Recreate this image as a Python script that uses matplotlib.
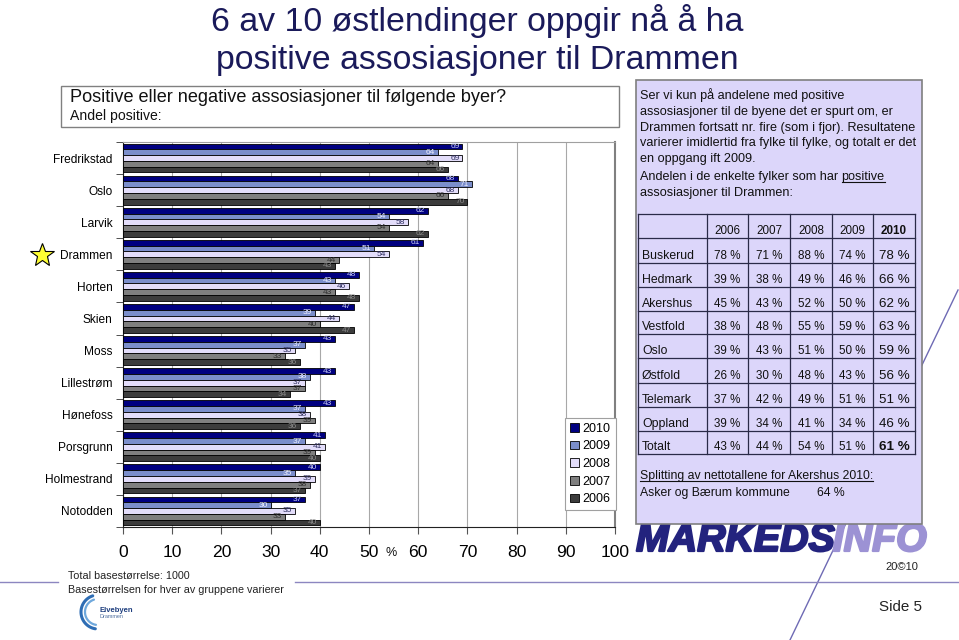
import numpy as np
import matplotlib
matplotlib.use('Agg')
import matplotlib.pyplot as plt
import matplotlib.patheffects as pe
from matplotlib import font_manager
from matplotlib.patches import Rectangle

# --- data -------------------------------------------------------------
cities = ['Fredrikstad', 'Oslo', 'Larvik', 'Drammen', 'Horten', 'Skien', 'Moss',
          'Lillestrøm', 'Hønefoss', 'Porsgrunn', 'Holmestrand', 'Notodden']
years = ['2010', '2009', '2008', '2007', '2006']
pos_2010 = [69, 68, 62, 61, 48, 47, 43, 43, 43, 41, 40, 37]
pos_2009 = [64, 71, 54, 51, 43, 39, 37, 38, 37, 37, 35, 30]
pos_2008 = [69, 68, 58, 54, 46, 44, 35, 37, 38, 41, 39, 35]
pos_2007 = [64, 66, 54, 44, 43, 40, 33, 37, 39, 39, 38, 33]
pos_2006 = [66, 70, 62, 43, 48, 47, 36, 34, 36, 40, 37, 40]
x_ticks = [0, 10, 20, 30, 40, 50, 60, 70, 80, 90, 100]

table_years = ['2006', '2007', '2008', '2009', '2010']
fylker = ['Buskerud', 'Hedmark', 'Akershus', 'Vestfold', 'Oslo', 'Østfold',
          'Telemark', 'Oppland', 'Totalt']
fylke_2006 = [78, 39, 45, 38, 39, 26, 37, 39, 43]
fylke_2007 = [71, 38, 43, 48, 43, 30, 42, 34, 44]
fylke_2008 = [88, 49, 52, 55, 51, 48, 49, 41, 54]
fylke_2009 = [74, 46, 50, 59, 50, 43, 51, 34, 51]
fylke_2010 = [78, 66, 62, 63, 59, 56, 51, 46, 61]
asker_baerum_2010 = 64

bar_colors = ['#000080', '#7B8ECB', '#E3DDFA', '#7F7F7F', '#3C3C3C']
label_colors = ['#C8CCF5', '#EEF0FF', '#303060', '#303030', '#8A8A8A']

names = {f.name for f in font_manager.fontManager.ttflist}
NARROW = 'Liberation Sans Narrow' if 'Liberation Sans Narrow' in names else 'Liberation Sans'
SQ = 1.0 if NARROW == 'Liberation Sans Narrow' else 0.84   # shrink if no narrow face
plt.rcParams['font.family'] = ['Liberation Sans', 'DejaVu Sans']

fig = plt.figure(figsize=(9.59, 6.40), dpi=100)
fig.patch.set_facecolor('white')

# background axes in pixel coordinates for all the slide decoration
bg = fig.add_axes([0, 0, 1, 1], zorder=0)
bg.set_xlim(0, 959)
bg.set_ylim(640, 0)
bg.axis('off')
renderer = fig.canvas.get_renderer()


def extent(t):
    bb = t.get_window_extent(renderer=renderer)
    inv = bg.transData.inverted()
    (x0, y0), (x1, y1) = inv.transform([(bb.x0, bb.y0), (bb.x1, bb.y1)])
    return x0, x1, y0, y1


# title
title_col = '#1a1a5a'
bg.text(477, 21, '6 av 10 østlendinger oppgir nå å ha', ha='center', va='center',
        fontsize=29 * SQ, family=NARROW, color=title_col)
bg.text(477, 60, 'positive assosiasjoner til Drammen', ha='center', va='center',
        fontsize=29 * SQ, family=NARROW, color=title_col)

# question box
bg.add_patch(Rectangle((61, 86), 558, 41, fc='white', ec='#808080', lw=1, zorder=2))
bg.text(70, 98, 'Positive eller negative assosiasjoner til følgende byer?', va='center',
        fontsize=15.5 * SQ, family=NARROW, color='#111111', zorder=3)
bg.text(70, 116, 'Andel positive:', va='center', fontsize=12 * SQ, family=NARROW,
        color='#111111', zorder=3)

# star in front of Drammen
bg.plot(42, 255, marker='*', markersize=18, mfc='#FFFF33', mec='black', mew=0.8)

# diagonal connector line (mostly behind the text box)
bg.plot([958, 790], [290, 640], color='#6E6AB4', lw=1, zorder=1)

# right text box
BOX_FS = 10.8 * SQ
bg.add_patch(Rectangle((636, 80), 286, 444, fc='#DCD6FA', ec='#7F7F7F', lw=1.2, zorder=2))
box_lines = ['Ser vi kun på andelene med positive',
             'assosiasjoner til de byene det er spurt om, er',
             'Drammen fortsatt nr. fire (som i fjor). Resultatene',
             'varierer imidlertid fra fylke til fylke, og totalt er det',
             'en oppgang ift 2009.']
for i, line in enumerate(box_lines):
    bg.text(640, 99 + i * 15.8, line, va='baseline', fontsize=BOX_FS, family=NARROW,
            color='#111111', zorder=3)
t = bg.text(640, 180, 'Andelen i de enkelte fylker som har ', va='baseline',
            fontsize=BOX_FS, family=NARROW, color='#111111', zorder=3)
x0, x1, _, _ = extent(t)
t2 = bg.text(x1, 180, 'positive', va='baseline', fontsize=BOX_FS, family=NARROW,
             color='#111111', zorder=3)
u0, u1, _, _ = extent(t2)
bg.plot([u0, u1], [182, 182], color='#111111', lw=0.8, zorder=3)
bg.text(640, 196, 'assosiasjoner til Drammen:', va='baseline', fontsize=BOX_FS,
        family=NARROW, color='#111111', zorder=3)

# table
col_edges = [638, 707, 748, 790, 832, 873, 915]
row_edges = [214, 238, 263, 287, 311, 334, 358, 383, 407, 431, 454]
line_col = '#2A2A48'
for x in col_edges:
    bg.plot([x, x], [row_edges[0], row_edges[-1]], color=line_col, lw=0.9, zorder=3)
for y in row_edges:
    bg.plot([col_edges[0], col_edges[-1]], [y, y], color=line_col, lw=0.9, zorder=3)
for j, yr in enumerate(table_years):
    cx = (col_edges[j + 1] + col_edges[j + 2]) / 2
    bg.text(cx, row_edges[1] - 7, yr, ha='center', va='center', fontsize=10 * SQ,
            family=NARROW, color='#111111', zorder=4,
            fontweight='bold' if yr == '2010' else 'normal')
table_cols = [fylke_2006, fylke_2007, fylke_2008, fylke_2009, fylke_2010]
for i, fy in enumerate(fylker):
    cy = row_edges[i + 2] - 7
    bg.text(642, cy, fy, va='center', fontsize=10.5 * SQ, family=NARROW,
            color='#111111', zorder=4)
    for j, col in enumerate(table_cols):
        cx = (col_edges[j + 1] + col_edges[j + 2]) / 2
        last = j == len(table_cols) - 1
        bold = last and fy == 'Totalt'
        bg.text(cx, cy, f'{col[i]} %', ha='center', va='center',
                fontsize=(11.5 if last else 10) * SQ, family=NARROW, color='#111111',
                fontweight='bold' if bold else 'normal', zorder=4)

t = bg.text(640, 479, 'Splitting av nettotallene for Akershus 2010:', va='baseline',
            fontsize=10.5 * SQ, family=NARROW, color='#111111', zorder=3)
u0, u1, _, _ = extent(t)
bg.plot([u0, u1], [481, 481], color='#111111', lw=0.8, zorder=3)
bg.text(640, 496, 'Asker og Bærum kommune', va='baseline', fontsize=10.5 * SQ,
        family=NARROW, color='#111111', zorder=3)
bg.text(817, 496, f'{asker_baerum_2010} %', va='baseline', fontsize=10.5 * SQ,
        family=NARROW, color='#111111', zorder=3)

# logo
t = bg.text(636, 541, 'MARKEDS', va='center', fontsize=27, fontweight='bold',
            style='italic', color='#23237E', zorder=1,
            path_effects=[pe.withStroke(linewidth=1.6, foreground='#23237E')])
x0, x1, _, _ = extent(t)
scale = 199 / (x1 - x0)
t.set_fontsize(27 * scale)
x0, x1, _, _ = extent(t)
bg.text(x1 - 2, 541, 'INFO', va='center', fontsize=27 * scale, fontweight='bold',
        style='italic', color='#9C92D4', zorder=1,
        path_effects=[pe.withStroke(linewidth=1.6, foreground='#9C92D4')])
bg.text(902, 567, '20©10', ha='center', va='center', fontsize=9.5 * SQ, family=NARROW,
        color='#222222')

# footer
bg.plot([0, 58], [582, 582], color='#8C86C0', lw=1)
bg.plot([295, 959], [582, 582], color='#8C86C0', lw=1)
bg.text(68, 576, 'Total basestørrelse: 1000', va='center', fontsize=9.2 * SQ,
        family=NARROW, color='#222222')
bg.text(68, 590, 'Basestørrelsen for hver av gruppene varierer', va='center',
        fontsize=9.2 * SQ, family=NARROW, color='#222222')
bg.text(922, 607, 'Side 5', ha='right', va='center', fontsize=13 * SQ, family=NARROW,
        color='#222222')

# small Elvebyen mark
th = np.linspace(0.6 * np.pi, 1.45 * np.pi, 40)
for r, c, lw in [(17, '#2E6DB4', 2.2), (13, '#6FA8DC', 1.6)]:
    bg.plot(98 + r * np.cos(th), 612 - r * np.sin(th), color=c, lw=lw,
            solid_capstyle='round')
bg.text(99, 610, 'Elvebyen', fontsize=5.5, fontweight='bold', color='#1F3F7F',
        va='center')
bg.text(99, 617, 'Drammen', fontsize=4, color='#4F6F9F', va='center')

# --- chart ------------------------------------------------------------
ax = fig.add_axes([123 / 959, 113 / 640, 492 / 959, 385 / 640], zorder=2)
ax.set_facecolor('white')
n = len(cities)
ypos = np.arange(n)
series = [pos_2010, pos_2009, pos_2008, pos_2007, pos_2006]
h = 0.18
for k, vals in enumerate(series):
    yy = ypos - 0.36 + k * h
    ax.barh(yy, vals, height=h, color=bar_colors[k], edgecolor='black',
            linewidth=0.6, label=years[k], zorder=3)
    for y, v in zip(yy, vals):
        ax.text(v - 0.6, y, str(v), ha='right', va='center', fontsize=6,
                color=label_colors[k], zorder=4)

ax.set_xlim(0, 100)
ax.set_ylim(n - 0.5, -0.5)
ax.set_xticks(x_ticks)
ax.set_xticklabels([str(v) for v in x_ticks], fontsize=15 * SQ, family=NARROW)
ax.tick_params(axis='x', length=5, direction='out', pad=8, color='#555555')
ax.set_yticks(ypos)
ax.set_yticklabels(cities, fontsize=8.6)
ax.tick_params(axis='y', which='major', length=0, pad=7.5)
ax.set_yticks(np.arange(n + 1) - 0.5, minor=True)
ax.tick_params(axis='y', which='minor', length=5, color='#333333')
ax.grid(axis='x', color='#A8A8A8', lw=0.8)
ax.set_axisbelow(True)
ax.spines['top'].set_color('#A0A0A0')
ax.spines['right'].set_color('#808080')
ax.spines['right'].set_linewidth(1.5)
ax.spines['left'].set_color('#222222')
ax.spines['bottom'].set_color('#222222')

bg.text(391, 553, '%', ha='center', va='center', fontsize=9, color='#111111')

leg = ax.legend(loc='center', bbox_to_anchor=(0.9, 0.044, 0.1, 0.239), fontsize=9,
                frameon=True, fancybox=False, edgecolor='#A0A0A0', framealpha=1,
                handlelength=0.7, handleheight=0.7, handletextpad=0.3,
                labelspacing=0.45, borderpad=0.4, borderaxespad=0)
leg.get_frame().set_linewidth(0.8)

fig.savefig('out.png', dpi=100)
